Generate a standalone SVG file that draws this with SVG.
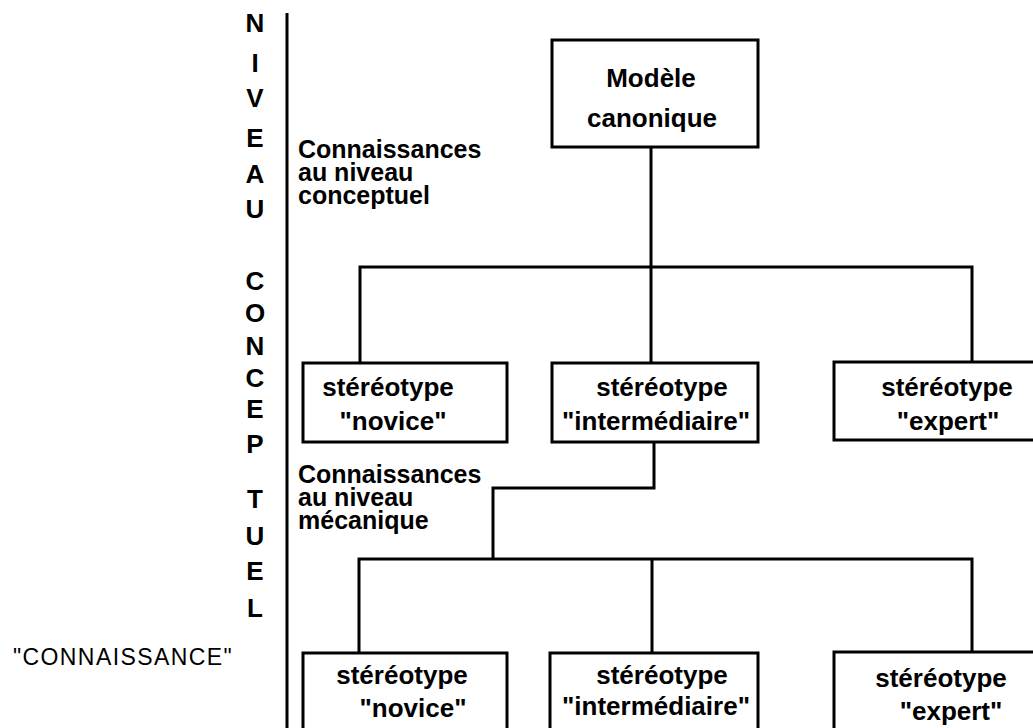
<svg xmlns="http://www.w3.org/2000/svg" width="1033" height="728" viewBox="0 0 1033 728">
<style>
text{font-family:"Liberation Sans",Arial,sans-serif;fill:#000}
.b{font-weight:bold;font-size:26px}
.l{font-weight:bold;font-size:25px}
.c{text-anchor:middle}
.box{fill:#fff;stroke:#000;stroke-width:3}
.ln{fill:none;stroke:#000;stroke-width:3;stroke-linejoin:miter}
.axis{stroke:#000;stroke-width:3}
</style>
<rect width="1033" height="728" fill="#fff"/>
<g id="axis">
<line class="axis" x1="287" y1="13" x2="287" y2="728"/>
<g class="b c">
<text x="255" y="32">N</text>
<text x="255" y="72">I</text>
<text x="255" y="107">V</text>
<text x="255" y="147">E</text>
<text x="255" y="183">A</text>
<text x="255" y="218">U</text>
<text x="255" y="290">C</text>
<text x="255" y="322">O</text>
<text x="255" y="355">N</text>
<text x="255" y="387">C</text>
<text x="255" y="418">E</text>
<text x="255" y="453">P</text>
<text x="255" y="508">T</text>
<text x="255" y="545">U</text>
<text x="255" y="580">E</text>
<text x="255" y="617">L</text>
</g>
<text x="13" y="665" font-size="23" letter-spacing="1.4">"CONNAISSANCE"</text>
</g>
<g id="labels" class="l">
<text x="298" y="158">Connaissances</text>
<text x="298" y="181">au niveau</text>
<text x="298" y="204">conceptuel</text>
<text x="298" y="483">Connaissances</text>
<text x="298" y="506">au niveau</text>
<text x="298" y="529">mécanique</text>
</g>
<g id="connectors">
<path class="ln" d="M651 147V267M360 363V267H972V362M651 267V363"/>
<path class="ln" d="M654 442V488H493V559M359 653V559H972V652M652 559V653"/>
</g>
<g id="modele">
<rect class="box" x="552" y="40" width="206" height="107"/>
<text class="b c" x="651" y="87">Modèle</text>
<text class="b c" x="652" y="127">canonique</text>
</g>
<g id="novice1">
<rect class="box" x="303" y="363" width="204" height="79"/>
<text class="b c" x="388" y="396">stéréotype</text>
<text class="b c" x="393" y="430">"novice"</text>
</g>
<g id="inter1">
<rect class="box" x="552" y="363" width="206" height="79"/>
<text class="b c" x="662" y="396">stéréotype</text>
<text class="b c" x="656" y="430">"intermédiaire"</text>
</g>
<g id="expert1">
<rect class="box" x="834" y="362" width="205" height="78"/>
<text class="b c" x="947" y="396">stéréotype</text>
<text class="b c" x="948" y="430">"expert"</text>
</g>
<g id="novice2">
<rect class="box" x="303" y="653" width="204" height="80"/>
<text class="b c" x="402" y="684">stéréotype</text>
<text class="b c" x="413" y="717">"novice"</text>
</g>
<g id="inter2">
<rect class="box" x="550" y="653" width="208" height="80"/>
<text class="b c" x="662" y="684">stéréotype</text>
<text class="b c" x="656" y="715">"intermédiaire"</text>
</g>
<g id="expert2">
<rect class="box" x="834" y="652" width="205" height="80"/>
<text class="b c" x="941" y="687">stéréotype</text>
<text class="b c" x="951" y="720">"expert"</text>
</g>
</svg>
